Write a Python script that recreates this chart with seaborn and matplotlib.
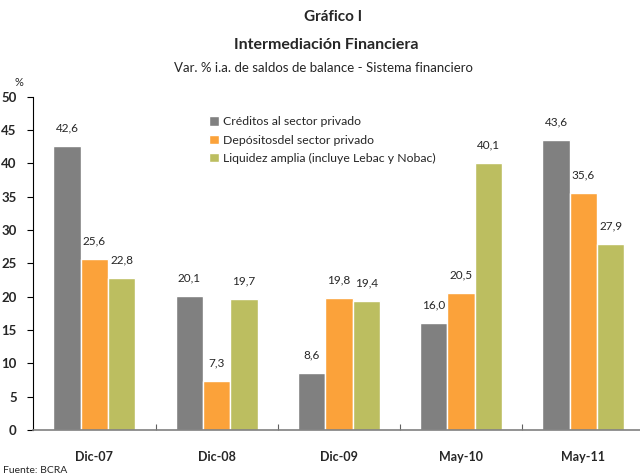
import numpy as np
import pandas as pd
import matplotlib
matplotlib.use('Agg')
import matplotlib.pyplot as plt
import seaborn as sns

periods = ['Dic-07', 'Dic-08', 'Dic-09', 'May-10', 'May-11']
series = ['Créditos al sector privado',
          'Depósitosdel sector privado',
          'Liquidez amplia (incluye Lebac y Nobac)']
creditos = [42.6, 20.1, 8.6, 16.0, 43.6]
depositos = [25.6, 7.3, 19.8, 20.5, 35.6]
liquidez = [22.8, 19.7, 19.4, 40.1, 27.9]
colors = ['#808080', '#FBA23A', '#BCBE60']

df = pd.DataFrame({
    'periodo': periods * 3,
    'serie': [series[0]] * 5 + [series[1]] * 5 + [series[2]] * 5,
    'valor': creditos + depositos + liquidez,
})

sns.set_style('white')
plt.rcParams['font.family'] = ['Lato', 'DejaVu Sans']
# tick labels take their weight from rcParams when drawn
plt.rcParams['font.weight'] = 'bold'

fig = plt.figure(figsize=(6.4, 4.75), dpi=100)
ax = fig.add_axes([0.052, 0.095, 0.955, 0.701])

sns.barplot(data=df, x='periodo', y='valor', hue='serie', palette=colors,
            width=0.67, saturation=1, ax=ax, legend=True)

for cont in ax.containers:
    labels = [('%.1f' % v).replace('.', ',') for v in cont.datavalues]
    ax.bar_label(cont, labels=labels, padding=9, fontsize=8.5,
                 fontweight='normal')

ax.set_ylim(0, 50)
ax.set_xlim(-0.5, 4.5)
ax.set_xlabel('')
ax.set_ylabel('')
ax.tick_params(axis='y', direction='out', length=4, width=0.8, color='black',
               pad=8, left=True, labelsize=9.5)
ax.tick_params(axis='x', length=0, pad=15, labelsize=9)
# minor ticks at category boundaries
ax.set_xticks(np.arange(0.5, 4.5, 1), minor=True)
ax.tick_params(axis='x', which='minor', direction='in', length=4,
               width=0.8, color='#606060', bottom=True)

yt = list(range(0, 51, 5))
ax.set_yticks(yt, labels=[str(t) for t in yt], fontweight='bold')
ax.set_xticks(range(len(periods)), labels=periods, fontweight='bold')

for s in ['top', 'right']:
    ax.spines[s].set_visible(False)
ax.spines['left'].set_color('black')
ax.spines['left'].set_linewidth(0.8)
ax.spines['bottom'].set_color('#808080')
ax.spines['bottom'].set_linewidth(1.2)

leg = ax.legend(loc='upper left', bbox_to_anchor=(0.27, 0.975), frameon=False,
                prop={'size': 8.8, 'weight': 'normal'}, handlelength=0.8,
                handleheight=0.8, handletextpad=0.3, labelspacing=0.6)

fig.text(0.52, 0.955, 'Gráfico I', ha='center', fontsize=11, fontweight='bold')
fig.text(0.51, 0.897, 'Intermediación Financiera', ha='center', fontsize=11.5,
         fontweight='bold')
fig.text(0.505, 0.849, 'Var. % i.a. de saldos de balance - Sistema financiero',
         ha='center', fontsize=9.5, fontweight='normal')
fig.text(0.022, 0.818, '%', fontsize=8, fontweight='normal')
fig.text(0.005, 0.004, 'Fuente: BCRA', fontsize=7.5, fontweight='normal')

fig.savefig('out.png', dpi=100)
